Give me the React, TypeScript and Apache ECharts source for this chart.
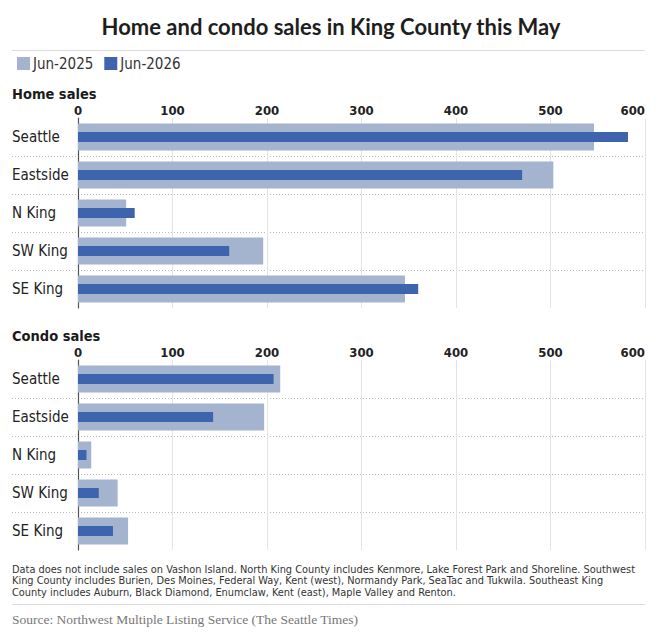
import React, { useEffect, useRef } from "react";
import * as echarts from "echarts";

const categories = ["Seattle", "Eastside", "N King", "SW King", "SE King"];
const home2025 = [546, 503, 51, 196, 346];
const home2026 = [582, 470, 60, 160, 360];
const condo2025 = [214, 197, 14, 42, 53];
const condo2026 = [207, 143, 9, 22, 37];
const seriesNames = ["Jun-2025", "Jun-2026"];
const xTicks = { min: 0, max: 600, interval: 100 };

const titleText = "Home and condo sales in King County this May";
const panelTitles = ["Home sales", "Condo sales"];
const footnoteLines = [
  "Data does not include sales on Vashon Island. North King County includes Kenmore, Lake Forest Park and Shoreline. Southwest",
  "King County includes Burien, Des Moines, Federal Way, Kent (west), Normandy Park, SeaTac and Tukwila. Southeast King",
  "County includes Auburn, Black Diamond, Enumclaw, Kent (east), Maple Valley and Renton.",
];
const sourceText = "Source: Northwest Multiple Listing Service (The Seattle Times)";

const COND = "'Liberation Sans Narrow', 'DejaVu Sans Condensed', Lato, sans-serif";
const LIGHT = "#a4b4cf";
const DARK = "#3e64ad";

export default function App() {
  const ref = useRef<HTMLDivElement>(null);
  useEffect(() => {
    document.body.style.margin = "0";
    if (!ref.current) return;
    const chart = echarts.init(ref.current, undefined, { renderer: "svg" });
    const gridLeft = 78;
    const gridRight = 17;
    const gridTops = [118, 360];
    const gridH = 190;
    const band = gridH / categories.length;

    const grids = gridTops.map((t) => ({ left: gridLeft, right: gridRight, top: t, height: gridH }));
    const xAxes = gridTops.map((_, i) => ({
      type: "value",
      gridIndex: i,
      position: "top",
      min: xTicks.min,
      max: xTicks.max,
      interval: xTicks.interval,
      axisLine: { show: false },
      axisTick: { show: false },
      axisLabel: {
        margin: 1,
        fontFamily: COND,
        fontWeight: "bold",
        fontSize: 13,
        color: "#222",
        alignMaxLabel: "right",
      },
      splitLine: { show: true, lineStyle: { color: "#e4e4e4", width: 1 } },
    }));
    const yAxes: any[] = [];
    gridTops.forEach((_, i) => {
      yAxes.push({
        type: "category",
        gridIndex: i,
        inverse: true,
        data: categories,
        axisLine: { show: true, lineStyle: { color: "#555", width: 1.2 } },
        axisTick: { show: false },
        splitLine: { show: false },
        axisLabel: {
          align: "left",
          margin: gridLeft - 12,
          fontFamily: COND,
          fontSize: 15,
          color: "#222",
        },
      });
      yAxes.push({
        type: "category",
        gridIndex: i,
        inverse: true,
        data: categories,
        show: false,
      });
    });
    const panelData = [
      [home2025, home2026],
      [condo2025, condo2026],
    ];
    const series: any[] = [];
    panelData.forEach((pair, i) => {
      series.push({
        type: "bar",
        name: seriesNames[0],
        xAxisIndex: i,
        yAxisIndex: i * 2,
        data: pair[0],
        barWidth: 27,
        itemStyle: { color: LIGHT },
        z: 2,
      });
      series.push({
        type: "bar",
        name: seriesNames[1],
        xAxisIndex: i,
        yAxisIndex: i * 2 + 1,
        data: pair[1],
        barWidth: 10,
        itemStyle: { color: DARK },
        z: 3,
      });
    });

    const graphics: any[] = [
      { type: "line", shape: { x1: 12, y1: 50.5, x2: 645, y2: 50.5 }, style: { stroke: "#dcdcdc", lineWidth: 1 } },
      { type: "line", shape: { x1: 12, y1: 604.5, x2: 645, y2: 604.5 }, style: { stroke: "#dcdcdc", lineWidth: 1 } },
    ];
    gridTops.forEach((t, i) => {
      graphics.push({
        type: "text",
        x: 12,
        y: t - 32,
        style: {
          text: panelTitles[i],
          font: `bold 14.5px ${COND}`,
          fill: "#1a1a1a",
        },
      });
      for (let k = 1; k < categories.length; k++) {
        const y = Math.round(t + band * k) + 0.5;
        graphics.push({
          type: "line",
          z: 0,
          shape: { x1: 12, y1: y, x2: 645, y2: y },
          style: { stroke: "#bdbdbd", lineWidth: 1, lineDash: [1, 2] },
        });
      }
    });
    footnoteLines.forEach((ln, i) => {
      graphics.push({
        type: "text",
        x: 12,
        y: 563.5 + i * 11.5,
        style: { text: ln, font: `10.9px ${COND}`, fill: "#333" },
      });
    });
    graphics.push({
      type: "text",
      x: 12,
      y: 612,
      style: { text: sourceText, font: "13.5px 'Liberation Serif', 'DejaVu Serif', serif", fill: "#777" },
    });

    chart.setOption({
      animation: false,
      backgroundColor: "#fff",
      title: {
        text: titleText,
        left: "center",
        top: 10,
        textStyle: { fontFamily: "Lato, 'Open Sans', sans-serif", fontWeight: "bold", fontSize: 22, color: "#1e1e1e" },
      },
      legend: {
        left: 12,
        top: 51,
        itemWidth: 13,
        itemHeight: 13,
        itemGap: 11,
        icon: "rect",
        data: seriesNames,
        textStyle: { fontFamily: COND, fontSize: 15, color: "#333", padding: [0, 0, 0, -2] },
      },
      grid: grids,
      xAxis: xAxes,
      yAxis: yAxes,
      series,
      graphic: graphics,
    });
    return () => chart.dispose();
  }, []);
  return <div ref={ref} style={{ width: 662, height: 635 }} />;
}
